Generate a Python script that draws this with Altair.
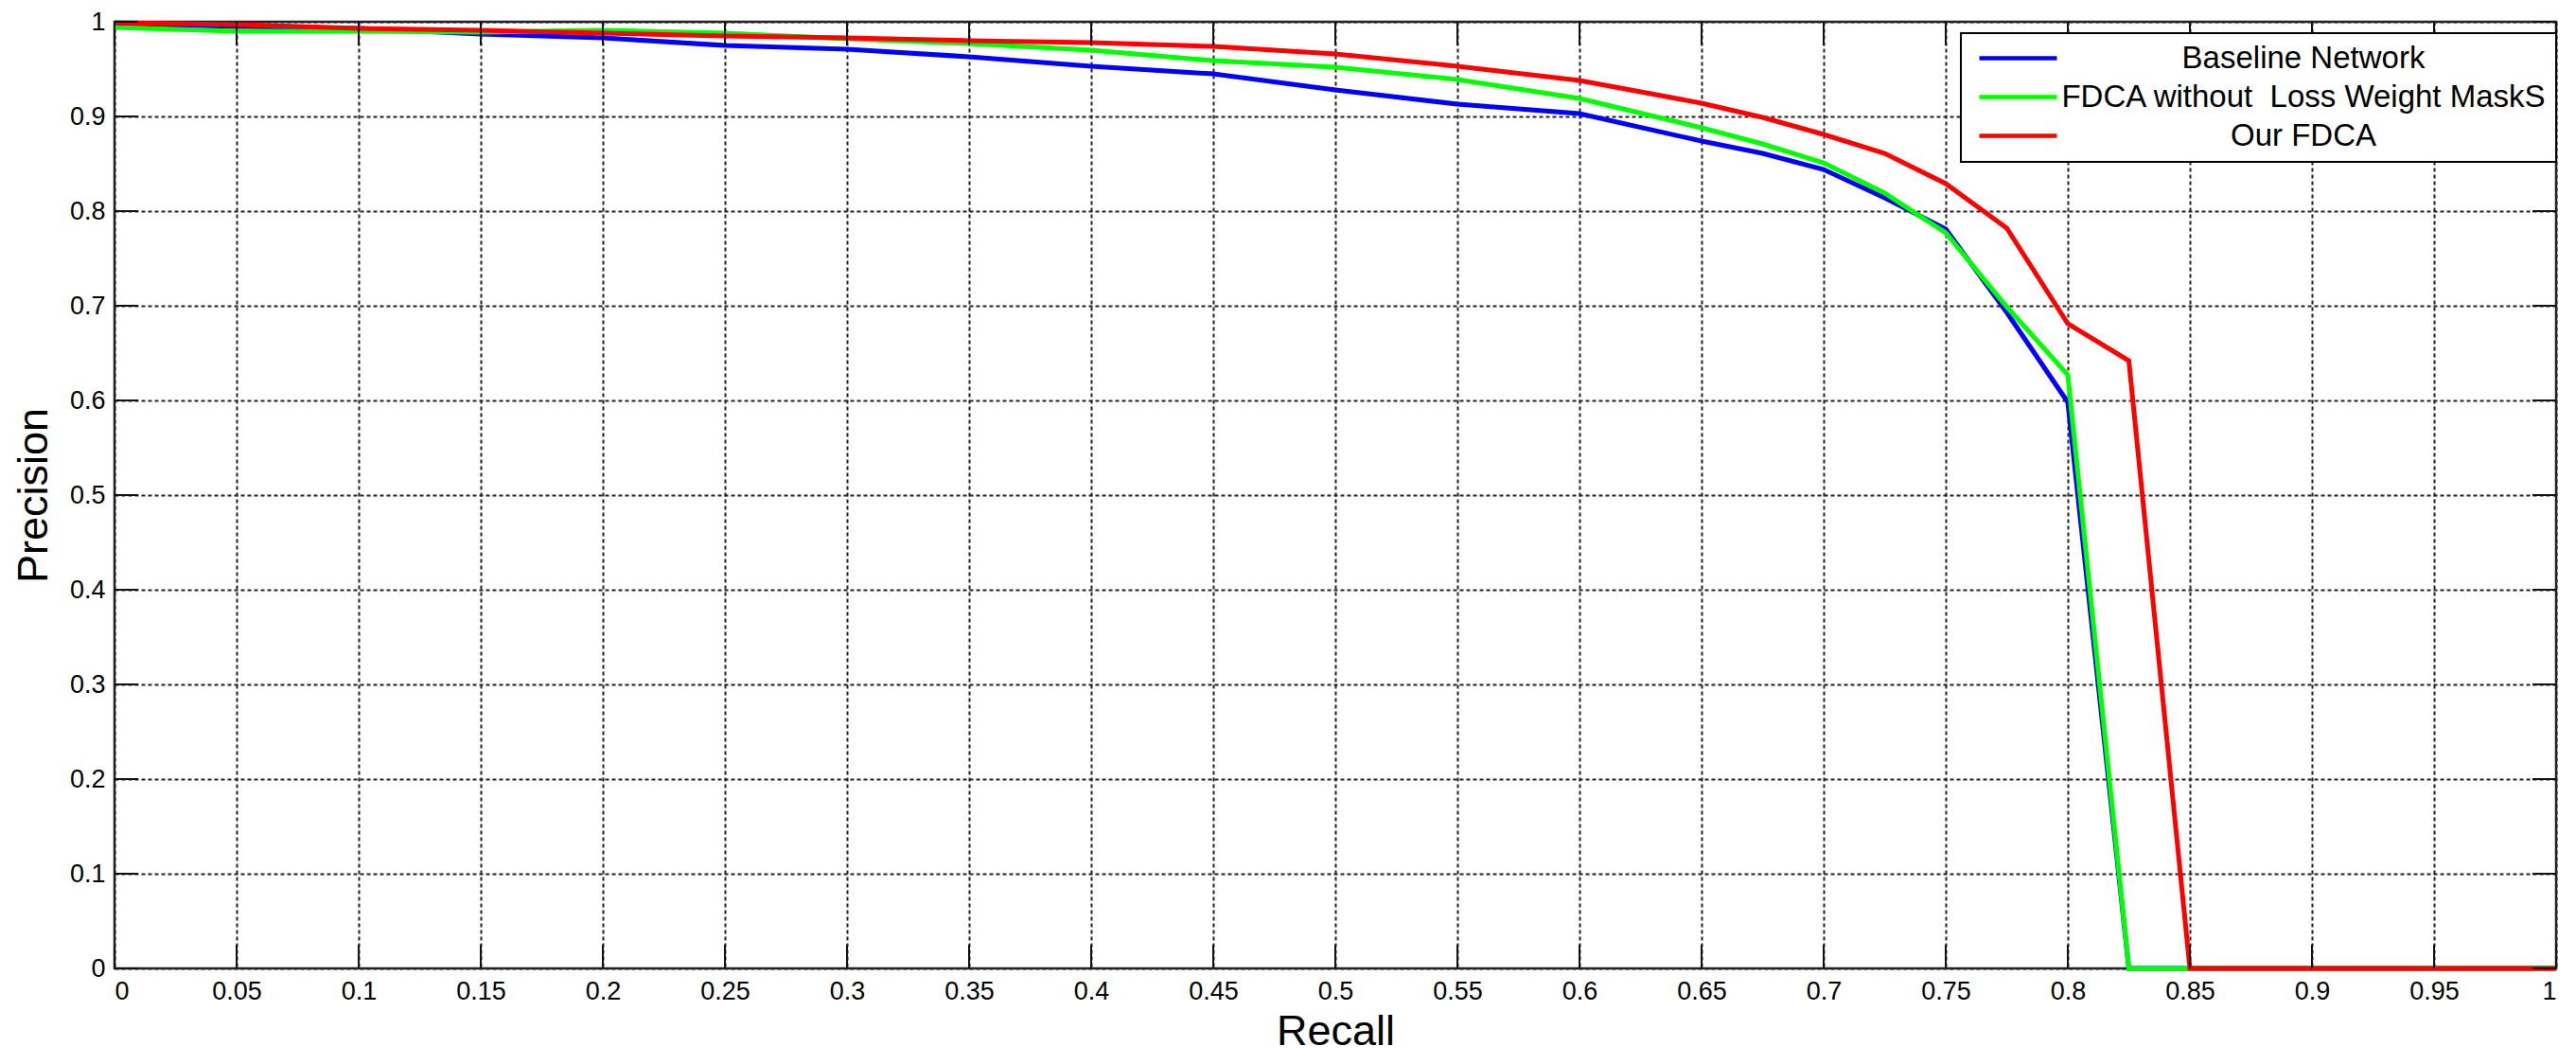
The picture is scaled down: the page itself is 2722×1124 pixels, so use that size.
import altair as alt
import pandas as pd

# ---- data ----
recall = [0, 0.05, 0.1, 0.15, 0.2, 0.25, 0.3, 0.35, 0.4, 0.45, 0.5, 0.55, 0.6,
          0.65, 0.675, 0.7, 0.725, 0.75, 0.775, 0.8, 0.825, 0.85, 1.0]
baseline = [0.998, 0.995, 0.993, 0.987, 0.983, 0.975, 0.971, 0.963, 0.953, 0.945,
            0.928, 0.913, 0.903, 0.874, 0.861, 0.844, 0.814, 0.781, 0.693, 0.598,
            0.0, 0.0, 0.0]
no_mask = [0.994, 0.990, 0.990, 0.989, 0.991, 0.988, 0.982, 0.977, 0.970, 0.959,
           0.952, 0.939, 0.919, 0.888, 0.871, 0.851, 0.819, 0.777, 0.699, 0.627,
           0.0, 0.0, 0.0]
ours = [0.999, 0.997, 0.993, 0.991, 0.988, 0.985, 0.983, 0.980, 0.978, 0.974,
        0.966, 0.953, 0.938, 0.914, 0.899, 0.881, 0.861, 0.829, 0.782, 0.681,
        0.642, 0.0, 0.0]

series_names = ["Baseline Network", "FDCA without\u00a0 Loss Weight MaskS", "Our FDCA"]
series_colors = ["#0000FF", "#00FF00", "#FF0000"]

x_ticks = [0, 0.05, 0.1, 0.15, 0.2, 0.25, 0.3, 0.35, 0.4, 0.45, 0.5, 0.55, 0.6,
           0.65, 0.7, 0.75, 0.8, 0.85, 0.9, 0.95, 1]
y_ticks = [0, 0.1, 0.2, 0.3, 0.4, 0.5, 0.6, 0.7, 0.8, 0.9, 1]

rows = []
for name, vals in zip(series_names, [baseline, no_mask, ours]):
    for r, p in zip(recall, vals):
        rows.append({"recall": r, "precision": p, "series": name})
df = pd.DataFrame(rows)
df_xt = pd.DataFrame({"recall": x_ticks})
df_yt = pd.DataFrame({"precision": y_ticks})

W, H = 2580, 1000
FONT = "Liberation Sans"

xscale = alt.Scale(domain=[0, 1], nice=False, zero=False)
yscale = alt.Scale(domain=[0, 1], nice=False, zero=False)

x_axis = alt.Axis(values=x_ticks, format="~g", title="Recall",
                  grid=True, titleY=80, titleBaseline="alphabetic",
                  labelPadding=11)
y_axis = alt.Axis(values=y_ticks, format="~g", title="Precision",
                  grid=True, titleX=-72, titleBaseline="alphabetic",
                  labelPadding=10)

x_enc = alt.X("recall:Q", scale=xscale, axis=x_axis)
y_enc = alt.Y("precision:Q", scale=yscale, axis=y_axis)
color_enc = alt.Color(
    "series:N",
    scale=alt.Scale(domain=series_names, range=series_colors),
    legend=alt.Legend(
        title=None, orient="none", legendX=1951, legendY=12,
        symbolType="M-4,0L4,0", symbolSize=420, symbolStrokeWidth=4.5,
        symbolOffset=34, labelAlign="center", labelOffset=285,
        labelFont=FONT, labelFontSize=33, labelColor="black", labelLimit=900,
        padding=10, rowPadding=7, strokeColor="black", fillColor="white",
    ),
)

tick_color = "#111"
tick_w = 2
xt_bottom = alt.Chart(df_xt).mark_rule(color=tick_color, strokeWidth=tick_w).encode(
    x=x_enc, y=alt.value(H), y2=alt.value(H - 25))
xt_top = alt.Chart(df_xt).mark_rule(color=tick_color, strokeWidth=tick_w).encode(
    x=x_enc, y=alt.value(0), y2=alt.value(25))
yt_left = alt.Chart(df_yt).mark_rule(color=tick_color, strokeWidth=tick_w).encode(
    y=y_enc, x=alt.value(0), x2=alt.value(25))
yt_right = alt.Chart(df_yt).mark_rule(color=tick_color, strokeWidth=tick_w).encode(
    y=y_enc, x=alt.value(W), x2=alt.value(W - 25))

layers = []
for name in series_names:
    layers.append(
        alt.Chart(df).transform_filter(alt.datum.series == name)
        .mark_line(strokeWidth=5)
        .encode(x=x_enc, y=y_enc, color=color_enc)
    )

chart = alt.layer(*layers, xt_bottom, xt_top, yt_left, yt_right).properties(
    width=W, height=H,
    autosize=alt.AutoSizeParams(type="none"),
    padding={"left": 113, "top": 15, "right": 10, "bottom": 92},
    background="white",
).configure_view(
    stroke="#222", strokeWidth=2.5
).configure_axis(
    labelFont=FONT, labelFontSize=27, labelColor="black",
    titleFont=FONT, titleFontSize=45, titleFontWeight="normal", titleColor="black",
    gridColor="#222", gridDash=[4, 3], gridWidth=2, gridOpacity=1,
    domain=False, ticks=False, tickSize=0,
).configure_legend(
    strokeWidth=2
)

chart.save("out.html", embed_options={"renderer": "svg", "actions": False})
